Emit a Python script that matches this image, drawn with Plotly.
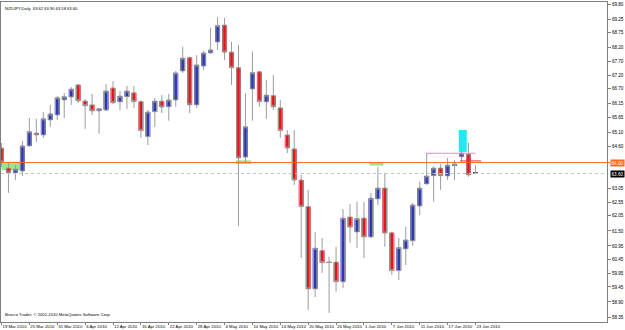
import pandas as pd
import plotly.graph_objects as go

# ---- data (NZDJPY daily) ----
dates = pd.bdate_range("2010-03-19", "2010-06-23")
opens = [64.53, 63.80, 63.62, 63.69, 64.61, 65.08, 65.01, 65.56, 65.74, 66.29,
         66.40, 66.84, 66.25, 66.11, 65.89, 65.92, 66.73, 66.22, 66.41, 66.55,
         66.23, 64.95, 65.86, 66.25, 66.04, 66.29, 67.35, 67.84, 66.11, 67.53,
         68.01, 68.41, 69.03, 68.04, 67.47, 64.20, 66.69, 67.32, 66.22, 66.45,
         66.00, 65.01, 64.50, 63.36, 62.39, 59.38, 60.78, 60.36, 60.36, 59.64,
         62.01, 61.46, 61.97, 61.28, 62.67, 63.07, 61.43, 60.05, 60.84, 61.14,
         62.41, 63.22, 63.52, 63.80, 63.51, 63.89, 64.21, 64.31, 63.62]
highs = [64.72, 63.98, 63.91, 64.79, 65.63, 65.60, 65.85, 66.11, 66.43, 66.54,
         66.76, 66.86, 66.32, 66.51, 66.00, 66.87, 66.98, 66.62, 66.80, 66.80,
         66.27, 65.92, 66.36, 66.47, 66.51, 67.35, 68.24, 67.88, 67.93, 68.09,
         68.93, 69.32, 69.30, 68.42, 68.30, 66.54, 68.06, 67.35, 67.02, 67.20,
         66.29, 65.19, 65.19, 63.55, 63.00, 61.46, 61.24, 60.56, 60.92, 62.30,
         62.49, 62.57, 62.57, 62.89, 63.84, 63.62, 61.47, 61.24, 61.65, 62.52,
         63.30, 64.35, 63.85, 63.95, 64.17, 64.09, 64.46, 64.72, 63.90]
lows = [63.84, 62.89, 63.36, 63.51, 64.58, 64.75, 64.90, 65.30, 65.56, 65.63,
        66.11, 66.18, 65.23, 65.74, 65.05, 65.90, 66.14, 65.92, 65.96, 66.00,
        64.90, 64.64, 65.30, 65.81, 65.53, 66.04, 67.28, 65.81, 66.00, 67.39,
        67.98, 68.12, 67.75, 66.84, 61.68, 64.02, 65.53, 66.04, 65.60, 65.92,
        64.90, 64.35, 63.18, 60.51, 58.61, 59.08, 59.96, 58.50, 59.28, 59.41,
        61.07, 60.88, 60.51, 61.24, 62.45, 60.92, 59.89, 59.70, 60.25, 60.95,
        62.08, 63.20, 62.57, 63.00, 63.36, 63.36, 64.03, 63.48, 63.58]
closes = [64.02, 63.62, 63.76, 64.61, 65.13, 65.01, 65.60, 65.78, 66.37, 66.41,
          66.69, 66.26, 66.08, 65.89, 65.97, 66.62, 66.19, 66.43, 66.62, 66.23,
          65.17, 65.85, 66.25, 66.03, 66.29, 67.28, 67.82, 66.11, 67.57, 68.01,
          68.12, 69.01, 68.04, 67.47, 64.17, 65.31, 67.29, 66.23, 66.47, 66.04,
          65.17, 64.53, 63.36, 62.39, 59.38, 60.87, 60.34, 60.35, 59.64, 61.97,
          61.64, 61.95, 61.28, 62.70, 63.07, 61.42, 60.05, 60.89, 61.17, 62.45,
          63.07, 63.51, 63.80, 63.52, 63.91, 63.95, 64.35, 63.55, 63.60]

x_labels = ["19 Mar 2010", "25 Mar 2010", "31 Mar 2010", "6 Apr 2010", "12 Apr 2010",
            "16 Apr 2010", "22 Apr 2010", "28 Apr 2010", "4 May 2010", "10 May 2010",
            "14 May 2010", "20 May 2010", "26 May 2010", "1 Jun 2010", "7 Jun 2010",
            "11 Jun 2010", "17 Jun 2010", "23 Jun 2010"]
y_ticks = [69.80, 69.25, 68.75, 68.20, 67.70, 67.20, 66.70, 66.15, 65.65, 65.10,
           64.60, 63.05, 62.55, 62.05, 61.50, 60.95, 60.45, 59.95, 59.45, 58.90, 58.35]

level_line = 64.00      # orange horizontal line
bid_price = 63.60       # current bid
title_text = "NZDJPY,Daily  63.62 63.90 63.58 63.60"
copyright_text = "Brocco Trader, \u00a9 2001-2010 MetaQuotes Software Corp."

# zones drawn on the chart (bar index from/to, price from/to)
green_zones = [(0.0, 2.7, 64.03, 63.72), (33.6, 35.8, 64.08, 63.95), (52.8, 54.8, 64.00, 63.89)]
cyan_zone = (65.6, 66.75, 65.19, 64.39)
pink_line = (61.0, 68.0, 64.34)
red_line = (65.8, 68.8, 64.06)

# ---- figure ----
idx = list(range(len(dates)))
date_str = [f"{d.day} {d.strftime('%b %Y')}" for d in dates]
tickvals = [date_str.index(s) for s in x_labels]

UP = "#2B37B5"
DN = "#E8141B"
WICK = "#9C9C9C"
FONT = "Liberation Sans"

fig = go.Figure()

for (x0, x1, y0, y1) in green_zones:
    fig.add_shape(type="rect", x0=x0, x1=x1, y0=y0, y1=y1, fillcolor="#9BE58F",
                  line_width=0, layer="below")
fig.add_shape(type="rect", x0=cyan_zone[0], x1=cyan_zone[1], y0=cyan_zone[2], y1=cyan_zone[3],
              fillcolor="#22E8F0", line_width=0, layer="below")

fig.add_trace(go.Candlestick(
    x=idx, open=opens, high=highs, low=lows, close=closes,
    increasing=dict(line=dict(color=WICK, width=1), fillcolor=UP),
    decreasing=dict(line=dict(color=WICK, width=1), fillcolor=DN),
    showlegend=False, hoverinfo="skip"))

body_base = [min(o, c) for o, c in zip(opens, closes)]
body_h = [max(abs(c - o), 0.012) for o, c in zip(opens, closes)]
body_col = [UP if c > o else DN for o, c in zip(opens, closes)]
body_col = [("#303030" if abs(c - o) < 0.025 else col) for o, c, col in zip(opens, closes, body_col)]
fig.add_trace(go.Bar(x=idx, y=body_h, base=body_base, width=0.72,
                     marker=dict(color=body_col, line_width=0), showlegend=False, hoverinfo="skip"))

# lines
fig.add_shape(type="line", xref="paper", x0=0, x1=1.005, y0=level_line, y1=level_line,
              line=dict(color="#FF6A1F", width=1))
fig.add_shape(type="line", xref="paper", x0=0, x1=1, y0=bid_price, y1=bid_price,
              line=dict(color="#C4C4C4", width=1, dash="dot"))
fig.add_shape(type="line", x0=pink_line[0], x1=pink_line[1], y0=pink_line[2], y1=pink_line[2],
              line=dict(color="#F07CF0", width=1))
fig.add_shape(type="line", x0=red_line[0], x1=red_line[1], y0=red_line[2], y1=red_line[2],
              line=dict(color="#F03030", width=1))

# price labels on axis
fig.add_annotation(xref="paper", x=1.0, y=level_line, xanchor="left", yanchor="middle",
                   text=f"{level_line:.2f}", showarrow=False, bgcolor="#FF6A1F",
                   font=dict(family=FONT, size=4.6, color="white"), borderpad=0.5, xshift=3)
fig.add_annotation(xref="paper", x=1.0, y=bid_price, xanchor="left", yanchor="middle",
                   text=f"{bid_price:.2f}", showarrow=False, bgcolor="#000000",
                   font=dict(family=FONT, size=4.6, color="white"), borderpad=0.5, xshift=3)

fig.add_annotation(xref="paper", yref="paper", x=0.004, y=0.995, xanchor="left", yanchor="top",
                   text=title_text, showarrow=False, font=dict(family=FONT, size=4.1, color="#000000"))
fig.add_annotation(xref="paper", yref="paper", x=0.004, y=0.008, xanchor="left", yanchor="bottom",
                   text=copyright_text, showarrow=False, font=dict(family=FONT, size=4.2, color="#000000"))

fig.update_layout(
    width=625, height=330,
    margin=dict(l=1, r=18, t=2, b=8, autoexpand=False),
    paper_bgcolor="white", plot_bgcolor="white",
    showlegend=False, barmode="overlay",
    font=dict(family=FONT, size=4.5, color="#000000"),
    xaxis=dict(range=[-0.07, 86.87], tickvals=tickvals, ticktext=x_labels,
               showgrid=False, zeroline=False, showline=True, linecolor="#808080",
               mirror=True, ticks="outside", ticklen=2, tickcolor="#808080",
               tickangle=0, automargin=False,
               ticklabelposition="outside right", rangeslider=dict(visible=False),
               tickfont=dict(family=FONT, size=4.3), fixedrange=True),
    yaxis=dict(range=[58.168, 69.873], side="right", tickvals=y_ticks,
               ticktext=[f"{v:.2f}" for v in y_ticks], automargin=False,
               showgrid=False, zeroline=False, showline=True, linecolor="#808080",
               mirror=True, ticks="outside", ticklen=3, tickcolor="#808080",
               tickfont=dict(family=FONT, size=4.6), fixedrange=True),
)

fig.write_html("out.html", config={"displayModeBar": False})
